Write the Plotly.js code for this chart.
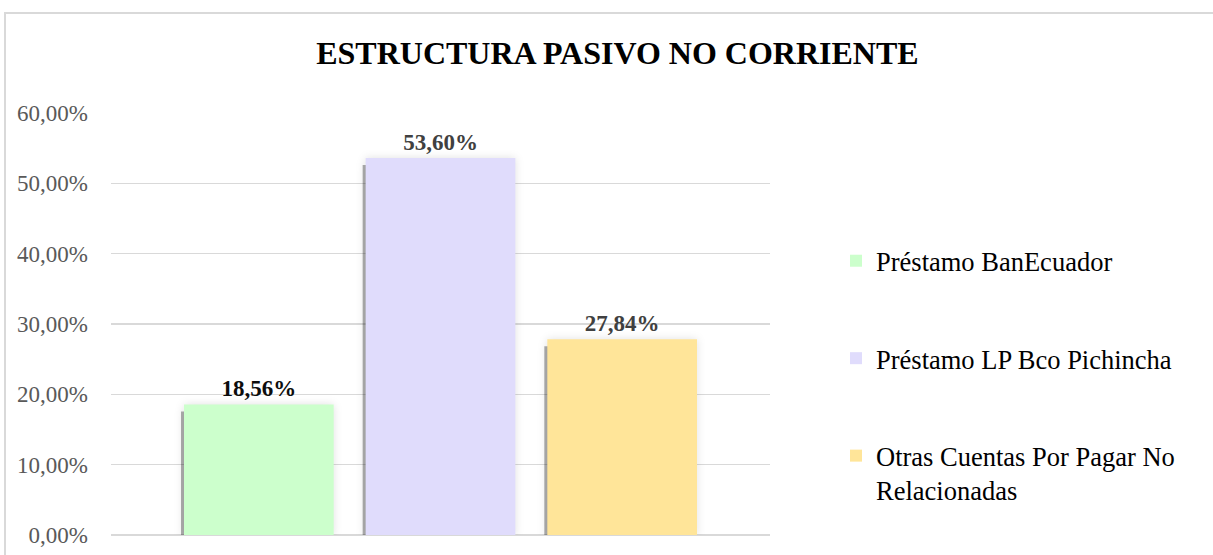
<!DOCTYPE html>
<html>
<head>
<meta charset="utf-8">
<script src="https://cdn.plot.ly/plotly-3.0.1.min.js"></script>
<style>
  html, body { margin: 0; padding: 0; background: #fff; overflow: hidden; }
  #frame { position: absolute; left: 4px; top: 12px; width: 1300px; height: 600px; border: 2px solid #d9d9d9; box-sizing: border-box; pointer-events: none; }
  #chart { position: absolute; left: 0; top: 0; width: 1213px; height: 555px; }
  .trace.bars .point path { filter: drop-shadow(-3px 7px 0 rgba(0,0,0,0.32)) drop-shadow(0 0 4px rgba(0,0,0,0.12)); }
</style>
</head>
<body>
<div id="frame"></div>
<div id="chart"></div>
<script>
const category = [""];
const seriesNames = ["Préstamo BanEcuador", "Préstamo LP Bco Pichincha", "Otras Cuentas Por Pagar No<br>Relacionadas"];
const seriesValues = [18.56, 53.60, 27.84];
const seriesColors = ["#CCFFCC", "#E0DCFC", "#FFE599"];
const labelColors = ["#0d0d0d", "#404040", "#404040"];
const yTickValues = [0, 10, 20, 30, 40, 50, 60];
const yTickLabels = ["0,00%", "10,00%", "20,00%", "30,00%", "40,00%", "50,00%", "60,00%"];

const SERIF = "'Liberation Serif', 'Times New Roman', serif";

const traces = seriesNames.map((name, i) => ({
  type: "bar",
  name: name,
  x: category,
  y: [seriesValues[i]],
  marker: { color: seriesColors[i], line: { width: 0 } },
  texttemplate: "%{y:.2f}%",
  textposition: "outside",
  textfont: { family: SERIF, size: 23, color: labelColors[i], weight: "bold" },
  legendgroup: "g" + i,
  hoverinfo: "skip"
}));

const layout = {
  width: 1213, height: 555,
  paper_bgcolor: "rgba(0,0,0,0)", plot_bgcolor: "rgba(0,0,0,0)",
  separators: ",.",
  margin: { l: 111, r: 443, t: 113, b: 20 },
  barmode: "group",
  bargap: 0.173,
  bargroupgap: 0.176,
  title: {
    text: "<b>ESTRUCTURA PASIVO NO CORRIENTE</b>",
    font: { family: SERIF, size: 32, color: "#000000" },
    xref: "container", yref: "container", x: 0.509, y: 0.905, xanchor: "center", yanchor: "middle"
  },
  xaxis: { showticklabels: false, showgrid: false, zeroline: false, showline: false, fixedrange: true },
  yaxis: {
    range: [0, 60], tickmode: "array", tickvals: yTickValues, ticktext: yTickLabels,
    showgrid: true, gridcolor: "#d9d9d9", gridwidth: 1.5,
    zeroline: true, zerolinecolor: "#d9d9d9", zerolinewidth: 1.5,
    showline: false, ticks: "", ticklabelstandoff: 22,
    tickfont: { family: SERIF, size: 23, color: "#595959" },
    fixedrange: true
  },
  showlegend: true,
  legend: {
    xref: "container", yref: "container",
    x: 836/1213, y: 1 - 237/555, xanchor: "left", yanchor: "top",
    traceorder: "grouped", tracegroupgap: 60, valign: "top",
    font: { family: SERIF, size: 26.5, color: "#000000" },
    bgcolor: "rgba(0,0,0,0)"
  }
};

Plotly.newPlot("chart", traces, layout, { displayModeBar: false, staticPlot: true });
</script>
</body>
</html>
